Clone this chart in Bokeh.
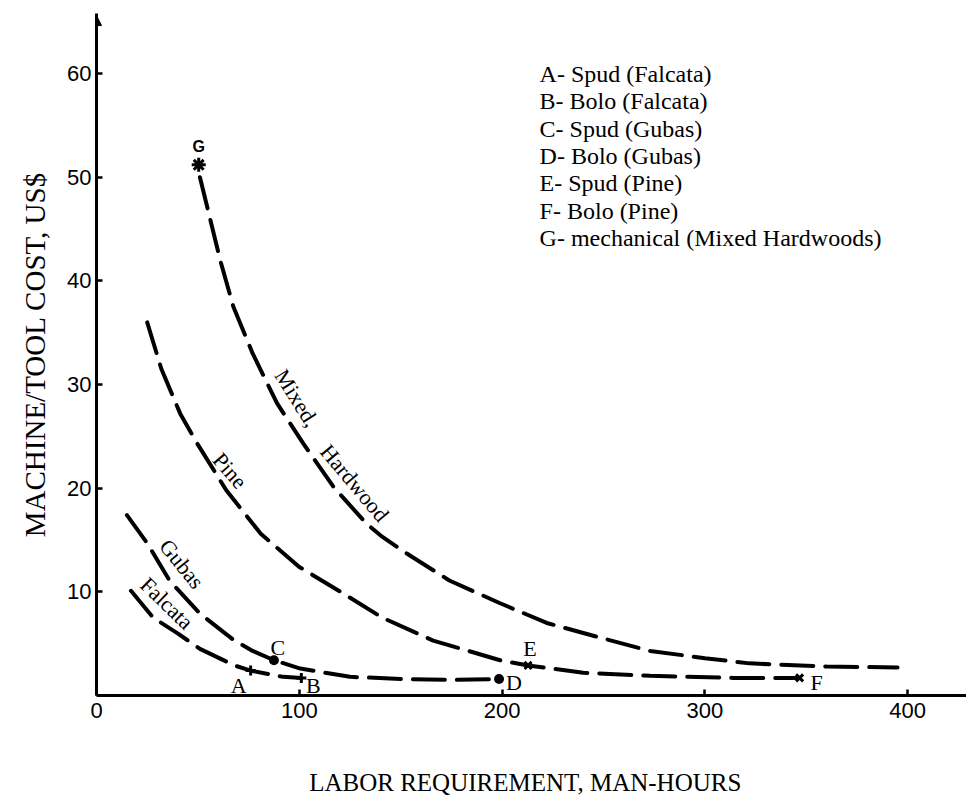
from bokeh.plotting import figure
from bokeh.models import Range1d, FixedTicker, Arrow, NormalHead, ColumnDataSource
from bokeh.core.properties import value
from bokeh.embed import file_html
from bokeh.resources import INLINE

# ---- data ----
mixed_x = [51, 61, 67.5, 77, 89, 102, 117, 133, 141, 153, 174, 199, 222, 250, 273, 300, 322, 360, 395]
mixed_y = [50, 42, 37.5, 33, 28.2, 24.3, 20.1, 16.6, 15.3, 13.7, 11.1, 8.9, 7.0, 5.5, 4.3, 3.6, 3.1, 2.8, 2.7]

pine_x = [25, 32, 41.5, 50, 64, 81, 100, 117, 141, 166, 199, 212.8, 240, 273, 314, 346.7]
pine_y = [36, 31.5, 27.1, 24.2, 19.8, 15.6, 12.4, 10.4, 7.5, 5.3, 3.4, 2.9, 2.2, 1.9, 1.7, 1.7]

gubas_x = [15, 25, 36, 51, 68, 77, 87.5, 100.5, 125, 150, 175, 198.5]
gubas_y = [17.4, 14.7, 11.1, 7.9, 5.3, 4.3, 3.4, 2.6, 1.8, 1.6, 1.5, 1.6]

falcata_x = [17, 28, 40, 51, 68, 76, 92, 101]
falcata_y = [10.1, 7.5, 6.0, 4.5, 2.9, 2.4, 1.8, 1.7]

point_letters = ["A", "B", "C", "D", "E", "F", "G"]
point_x = [76, 101, 87.5, 198.5, 212.8, 346.7, 50.4]
point_y = [2.4, 1.7, 3.4, 1.6, 2.9, 1.7, 51.2]

curve_names = ["Mixed,", "Hardwood", "Pine", "Gubas", "Falcata"]

legend_lines = [
    "A- Spud (Falcata)",
    "B- Bolo (Falcata)",
    "C- Spud (Gubas)",
    "D- Bolo (Gubas)",
    "E- Spud (Pine)",
    "F- Bolo (Pine)",
    "G- mechanical (Mixed Hardwoods)",
]

x_ticks = [0, 100, 200, 300, 400]
y_ticks = [10, 20, 30, 40, 50, 60]

x_title = "LABOR  REQUIREMENT,  MAN-HOURS"
y_title = "MACHINE/TOOL COST, US$"

# ---- styling / layout ----
SERIF = "Liberation Serif"
SANS = "Liberation Sans"
X_END = 429.0
Y_END = 65.8

p = figure(width=966, height=800, output_backend="svg", toolbar_location=None,
           x_range=Range1d(0, X_END), y_range=Range1d(0, Y_END),
           min_border_left=96, min_border_right=0, min_border_top=13, min_border_bottom=105)
p.outline_line_color = None
p.xgrid.visible = False
p.ygrid.visible = False
p.background_fill_color = "white"
p.border_fill_color = "white"

for ax in (p.xaxis, p.yaxis):
    ax.axis_line_width = 3
    ax.axis_line_color = "black"
    ax.major_tick_in = 6
    ax.major_tick_out = 0
    ax.major_tick_line_width = 2.5
    ax.minor_tick_line_color = None
    ax.major_label_text_font = SANS
    ax.major_label_text_font_size = "22px"
    ax.major_label_text_color = "black"
    ax.axis_label_text_font = SERIF
    ax.axis_label_text_font_style = "normal"
    ax.axis_label_text_color = "black"

p.xaxis.ticker = FixedTicker(ticks=x_ticks)
p.yaxis.ticker = FixedTicker(ticks=y_ticks)
p.xaxis.major_label_standoff = 7
p.yaxis.major_label_standoff = 5

p.xaxis.axis_label = x_title
p.xaxis.axis_label_text_font_size = "25px"
p.xaxis.axis_label_standoff = 48

p.yaxis.axis_label = y_title
p.yaxis.axis_label_text_font_size = "29px"
p.yaxis.axis_label_standoff = 13

# arrow head on top of y axis
p.add_layout(Arrow(end=NormalHead(size=10, fill_color="black", line_color="black"),
                   x_start=0, y_start=Y_END - 3, x_end=0, y_end=Y_END - 0.2,
                   line_width=3, line_color="black"))

DASH = "32 12"
for xs, ys in [(mixed_x, mixed_y), (pine_x, pine_y), (gubas_x, gubas_y), (falcata_x, falcata_y)]:
    p.line(xs, ys, line_color="black", line_width=4, line_dash=DASH, line_cap="round")

markers = ["cross", "cross", "circle", "circle", "x", "x", "asterisk"]
sizes = [10, 10, 7, 7, 10, 10, 14]
pts = ColumnDataSource(dict(x=point_x, y=point_y, m=markers, s=sizes))
p.scatter(x="x", y="y", marker="m", size="s", source=pts, line_color="black",
          fill_color="black", line_width=3)

letters_serif = ColumnDataSource(dict(x=point_x[:6], y=point_y[:6], t=point_letters[:6],
                                      dx=[-12, 12, 4, 15, 2, 17], dy=[15, 8, -13, 4, -17, 5]))
p.text(x="x", y="y", text="t", x_offset="dx", y_offset="dy", source=letters_serif,
       text_font=value(SERIF), text_font_size="22px", text_align="center",
       text_baseline="middle", text_color="black")
p.text(x=[point_x[6]], y=[point_y[6]], text=[point_letters[6]], y_offset=-18,
       text_font=value(SANS), text_font_size="16px", text_font_style="bold",
       text_align="center", text_baseline="middle", text_color="black")

# curve labels (centre positions in data units, rotation in screen degrees)
lab_x = [98.8, 127.3, 65.8, 42.1, 34.7]
lab_y = [28.7, 20.5, 21.7, 12.7, 8.9]
lab_a = [-58, -50, -49, -51, -44]
p.text(x=lab_x, y=lab_y, text=curve_names, angle=lab_a, angle_units="deg",
       text_font=value(SERIF), text_font_size="22px", text_align="center",
       text_baseline="middle", text_color="black")

# legend block
LEG_X = 218.5
LEG_TOP = 60.0
LEG_STEP = 2.65
p.text(x=[LEG_X] * len(legend_lines), y=[LEG_TOP - i * LEG_STEP for i in range(len(legend_lines))],
       text=legend_lines, text_font=value(SERIF), text_font_size="24px",
       text_align="left", text_baseline="middle", text_color="black")

open("out.html", "w").write(file_html(p, INLINE))
